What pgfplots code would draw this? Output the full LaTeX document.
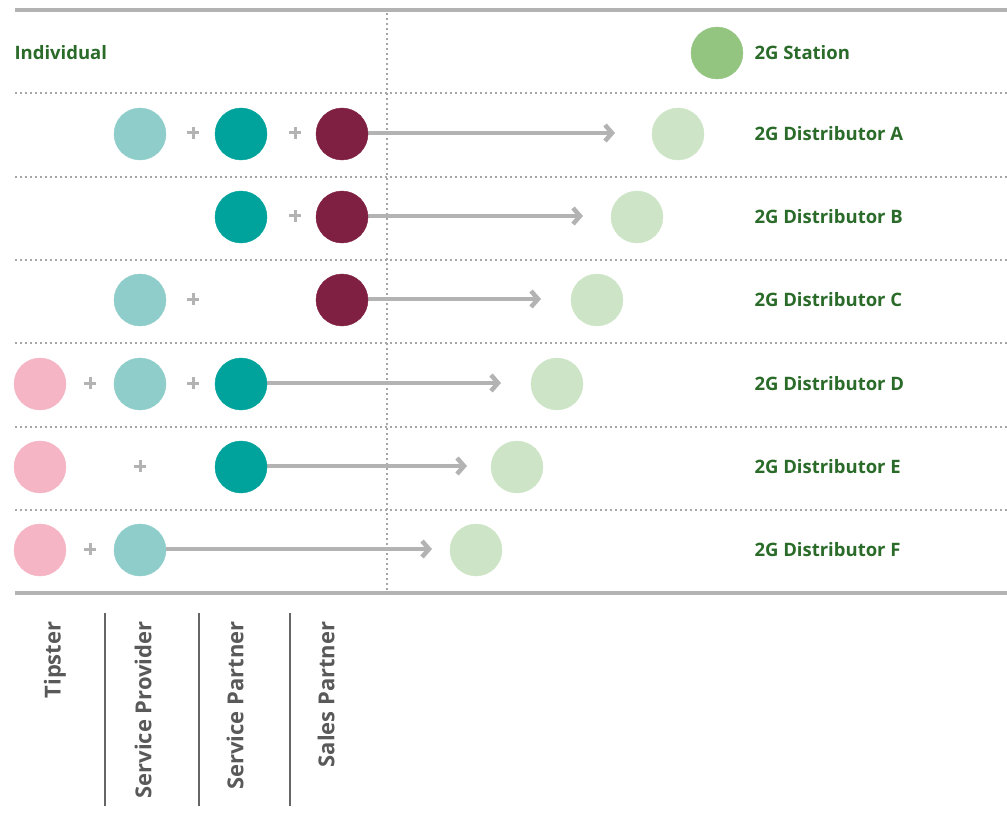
\documentclass[border=0pt]{standalone}
\usepackage{fontspec}
\setmainfont{Open Sans}
\usepackage{pgfplots}
\pgfplotsset{compat=1.18}
\usetikzlibrary{arrows.meta}

\definecolor{rulegray}{HTML}{B3B3B3}
\definecolor{dotgray}{HTML}{A6A6A6}
\definecolor{sepgray}{HTML}{666666}
\definecolor{labgray}{HTML}{595959}
\definecolor{txtgreen}{HTML}{2A6B2A}
\definecolor{pinkc}{HTML}{F5B5C4}
\definecolor{lteal}{HTML}{8ECDCA}
\definecolor{teal}{HTML}{00A39C}
\definecolor{maroon}{HTML}{7F1F41}
\definecolor{lgreen}{HTML}{CDE5C6}
\definecolor{green}{HTML}{93C580}

\tikzset{
  dotline/.style={dotgray, line width=1.6pt, dash pattern=on 1.6pt off 3.4pt},
  arr/.style={rulegray, line width=4.5pt, -{Straight Barb[length=7pt,width=16pt]}},
  sep/.style={sepgray, line width=2.5pt},
  grn/.style={anchor=west, txtgreen, font=\fontsize{18.5}{22}\selectfont\bfseries},
  rot/.style={anchor=east, rotate=90, labgray, font=\fontsize{22}{26}\selectfont\bfseries},
}

\begin{document}
\begin{tikzpicture}
\begin{axis}[
    width=1007pt, height=821pt, scale only axis,
    xmin=0, xmax=1007, ymin=0, ymax=821, y dir=reverse,
    hide axis, clip=false,
    every axis plot/.append style={only marks, mark=*},
]
% frame lines
\draw[rulegray, line width=4.5pt] (axis cs:15,10) -- (axis cs:1007,10);
\draw[rulegray, line width=4.5pt] (axis cs:15,593) -- (axis cs:1007,593);
\draw[dotline] (axis cs:15,93) -- (axis cs:1007,93);
\draw[dotline] (axis cs:15,177) -- (axis cs:1007,177);
\draw[dotline] (axis cs:15,260) -- (axis cs:1007,260);
\draw[dotline] (axis cs:15,343) -- (axis cs:1007,343);
\draw[dotline] (axis cs:15,427) -- (axis cs:1007,427);
\draw[dotline] (axis cs:15,510) -- (axis cs:1007,510);
\draw[dotline] (axis cs:387,13) -- (axis cs:387,590);
\draw[sep] (axis cs:105,613) -- (axis cs:105,806);
\draw[sep] (axis cs:199,613) -- (axis cs:199,806);
\draw[sep] (axis cs:290,613) -- (axis cs:290,806);

% arrows
\draw[arr] (axis cs:342,133) -- (axis cs:615,133);
\draw[arr] (axis cs:342,216) -- (axis cs:583,216);
\draw[arr] (axis cs:342,299) -- (axis cs:541,299);
\draw[arr] (axis cs:241,383) -- (axis cs:501,383);
\draw[arr] (axis cs:241,466) -- (axis cs:467,466);
\draw[arr] (axis cs:140,549) -- (axis cs:432,549);

% circles
\addplot[mark options={fill=pinkc, draw=pinkc}, mark size=26pt] coordinates {(40,384) (40,467) (40,550)};
\addplot[mark options={fill=lteal, draw=lteal}, mark size=26pt] coordinates {(140,134) (140,300) (140,384) (140,550)};
\addplot[mark options={fill=teal, draw=teal}, mark size=26pt] coordinates {(241,134) (241,217) (241,384) (241,467)};
\addplot[mark options={fill=maroon, draw=maroon}, mark size=26pt] coordinates {(342,134) (342,217) (342,300)};
\addplot[mark options={fill=lgreen, draw=lgreen}, mark size=26pt] coordinates {(678,134) (637,217) (597,300) (557,384) (517,467) (476,550)};
\addplot[mark options={fill=green, draw=green}, mark size=26pt] coordinates {(717,53)};

% plus signs
\addplot[mark=+, mark size=6pt, mark options={rulegray, line width=3pt}] coordinates {
  (193,133) (295,133) (295,216) (193,299) (90,383) (193,383) (140,466) (90,549)};

% texts
\node[grn] at (axis cs:11,53) {Individual};
\node[grn] at (axis cs:751,53) {2G Station};
\node[grn] at (axis cs:751,134) {2G Distributor A};
\node[grn] at (axis cs:751,217) {2G Distributor B};
\node[grn] at (axis cs:751,300) {2G Distributor C};
\node[grn] at (axis cs:751,384) {2G Distributor D};
\node[grn] at (axis cs:751,467) {2G Distributor E};
\node[grn] at (axis cs:751,550) {2G Distributor F};

\node[rot] at (axis cs:55,618) {Tipster};
\node[rot] at (axis cs:143,618) {Service Provider};
\node[rot] at (axis cs:235,618) {Service Partner};
\node[rot] at (axis cs:326,618) {Sales Partner};
\end{axis}
\pgfresetboundingbox
\path (current axis.south west) rectangle (current axis.north east);
\end{tikzpicture}
\end{document}
